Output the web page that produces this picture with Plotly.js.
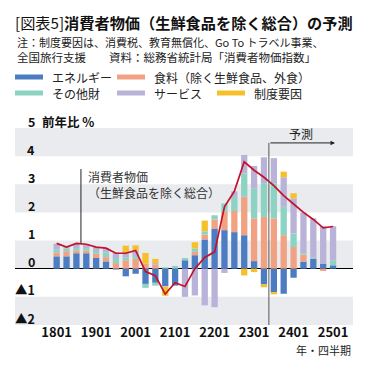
<!DOCTYPE html>
<html>
<head>
<meta charset="utf-8">
<script src="https://cdn.plot.ly/plotly-3.0.1.min.js"></script>
<style>html,body{margin:0;padding:0;background:#fff;}#chart{width:368px;height:375px;}</style>
</head>
<body>
<div id="chart"></div>
<script>
// ---- data ----
const quarters = ['1801','1802','1803','1804','1901','1902','1903','1904','2001','2002','2003','2004',
  '2101','2102','2103','2104','2201','2202','2203','2204','2301','2302','2303','2304','2401','2402','2403','2404','2501'];
const energy  = [0.44,0.44,0.55,0.55,0.38,0.26,-0.03,-0.27,-0.18,-0.54,-0.50,-0.62,-0.60,0.30,0.48,1.04,1.43,1.37,1.30,1.19,0.27,-0.56,-0.83,-0.89,-0.32,0.25,0.36,0.18,0.12];
const food    = [0.13,0.18,0.10,0.10,0.15,0.15,0.20,0.30,0.35,0.18,0.15,0.00,0.00,0.00,0.12,0.17,0.32,0.65,0.75,1.37,1.52,1.84,1.79,1.19,0.77,0.25,0.00,-0.08,0.00];
const otherGoods = [0.12,0.10,0.08,0.08,0.10,0.17,0.18,0.10,0.10,-0.14,-0.10,0.05,0.10,0.08,0.12,0.12,0.15,0.30,0.50,0.83,1.07,1.20,1.25,1.01,0.48,0.05,0.03,0.00,0.18];
const services = [0.20,0.05,0.15,0.14,0.14,0.14,0.20,0.15,0.20,0.00,0.05,-0.02,0.00,-1.00,-0.95,-1.30,-1.37,-0.15,0.20,0.65,0.79,0.92,0.89,1.05,1.25,1.45,1.40,1.33,1.21];
const policy  = [0,0,0,0,0,0,0,0.27,0.18,0.38,0.15,-0.32,0,0,0.22,0.38,0,0,0,-0.24,-0.12,-0.10,-0.08,0.20,0.18,0,0,0,0];
const coreCPI = [0.90,0.77,0.90,0.87,0.77,0.73,0.55,0.55,0.65,-0.10,-0.25,-0.90,-0.50,-0.63,0.00,0.40,0.60,2.20,2.75,3.80,3.50,3.25,2.95,2.60,2.30,2.00,1.75,1.45,1.50];
const seriesNames = ['エネルギー','食料（除く生鮮食品、外食）','その他財','サービス','制度要因'];
const yTickVals = [5,4,3,2,1,0,-1,-2];
const yTickText = ['5','4','3','2','1','0','▲1','▲2'];

// ---- style ----
const FONT = '"Noto Sans CJK JP", "Noto Sans", sans-serif';
const colors = ['#4c7dc2','#f0a283','#8dd3c3','#bab3d9','#f6c02a'];
const W = 368, H = 375, L = 15, R = 15, T = 128, B = 50;
const PW = W - L - R, PH = H - T - B;
const px = X => (X - L) / PW;
const py = Y => (H - B - Y) / PH;

const seriesVals = [energy, food, otherGoods, services, policy];
const traces = seriesVals.map((v, k) => ({
  type: 'bar', x: quarters, y: v, name: seriesNames[k],
  marker: {color: colors[k], line: {width: 0}}, hoverinfo: 'skip', showlegend: false
}));
traces.push({
  type: 'scatter', mode: 'lines', x: quarters, y: coreCPI, name: '消費者物価（生鮮食品を除く総合）',
  line: {color: '#c3122c', width: 1.7}, hoverinfo: 'skip', showlegend: false
});

const shapes = [];
[[4,5],[2,3],[0,1],[-2,-1]].forEach(b => shapes.push({
  type: 'rect', xref: 'paper', yref: 'y', x0: 0, x1: 1, y0: b[0], y1: b[1],
  fillcolor: '#e9ebee', line: {width: 0}, layer: 'below'
}));
// pointer line for series label
shapes.push({type: 'line', xref: 'x', yref: 'y', x0: 2.46, x1: 2.46, y0: 0.9, y1: 3.54,
  line: {color: '#222', width: 1}});
// forecast divider
shapes.push({type: 'line', xref: 'x', yref: 'y', x0: 21.5, x1: 21.5, y0: -2, y1: 4.47,
  line: {color: '#555', width: 1}});

// legend swatches
const legendPos = [[15,77],[117,77],[15,93],[117,93],[217,93]];
legendPos.forEach((p, k) => shapes.push({
  type: 'rect', xref: 'paper', yref: 'paper', x0: px(p[0]), x1: px(p[0] + 28),
  y0: py(p[1] + 2.5), y1: py(p[1] - 2.5), fillcolor: colors[k], line: {width: 0}
}));

const annotations = [];
legendPos.forEach((p, k) => annotations.push({
  xref: 'paper', yref: 'paper', x: px(p[0] + 35), y: py(p[1]), xanchor: 'left', yanchor: 'middle',
  text: seriesNames[k], showarrow: false, font: {family: FONT, size: 12, color: '#222'}
}));
// subtitle lines
annotations.push({xref: 'paper', yref: 'paper', x: px(15), y: py(42), xanchor: 'left', yanchor: 'middle',
  text: '注：制度要因は、消費税、教育無償化、Go To トラベル事業、', showarrow: false,
  font: {family: FONT, size: 11, color: '#222'}});
annotations.push({xref: 'paper', yref: 'paper', x: px(15), y: py(57), xanchor: 'left', yanchor: 'middle',
  text: '全国旅行支援　　資料：総務省統計局「消費者物価指数」', showarrow: false,
  font: {family: FONT, size: 11.5, color: '#222'}});
// y tick labels
yTickVals.forEach((v, k) => annotations.push({
  xref: 'paper', yref: 'y', x: px(37), y: v, yshift: 7, xanchor: 'right', yanchor: 'middle',
  text: yTickText[k], showarrow: false, font: {family: FONT, size: 12.5, color: '#111', weight: 'bold'}
}));
annotations.push({xref: 'paper', yref: 'y', x: px(40), y: 5, yshift: 7, xanchor: 'left', yanchor: 'middle',
  text: '前年比 %', showarrow: false, font: {family: FONT, size: 12.5, color: '#111', weight: 'bold'}});
// x axis unit
annotations.push({xref: 'paper', yref: 'paper', x: px(353), y: py(350), xanchor: 'right', yanchor: 'middle',
  text: '年・四半期', showarrow: false, font: {family: FONT, size: 11, color: '#222'}});
// series label
annotations.push({xref: 'paper', yref: 'paper', x: px(86), y: py(184), xanchor: 'left', yanchor: 'middle',
  text: '消費者物価<br>（生鮮食品を除く総合）', align: 'left', showarrow: false,
  font: {family: FONT, size: 12, color: '#333'}});
// forecast arrow + label
annotations.push({xref: 'x', yref: 'y', axref: 'x', ayref: 'y', x: 28.2, y: 4.47, ax: 21.5, ay: 4.47,
  text: '', showarrow: true, arrowhead: 2, arrowsize: 0.9, arrowwidth: 1, arrowcolor: '#222'});
annotations.push({xref: 'x', yref: 'y', x: 24.8, y: 4.82, xanchor: 'center', yanchor: 'middle',
  text: '予測', showarrow: false, font: {family: FONT, size: 12, color: '#222'}});

const layout = {
  width: W, height: H,
  margin: {l: L, r: R, t: T, b: B, pad: 0},
  paper_bgcolor: '#fff', plot_bgcolor: 'rgba(0,0,0,0)',
  font: {family: FONT, color: '#222'},
  title: {
    text: '[図表5]<b>消費者物価（生鮮食品を除く総合）の予測</b>',
    xref: 'container', yref: 'container', x: 15 / W, y: 1 - 24 / H,
    xanchor: 'left', yanchor: 'middle',
    font: {family: FONT, size: 15.2, color: '#111'}
  },
  barmode: 'relative', bargap: 0.36,
  showlegend: false,
  xaxis: {
    type: 'category', range: [-4.22, 30.02], tickmode: 'linear', tick0: 0, dtick: 4,
    showgrid: false, zeroline: false, showline: false, ticks: '', ticklabelstandoff: -2,
    tickfont: {family: FONT, size: 13, color: '#111', weight: 'bold'}, fixedrange: true
  },
  yaxis: {
    range: [-2, 5], showgrid: false, showticklabels: false, ticks: '',
    zeroline: true, zerolinecolor: '#000', zerolinewidth: 1, fixedrange: true
  },
  shapes: shapes,
  annotations: annotations
};

Plotly.newPlot('chart', traces, layout, {displayModeBar: false, staticPlot: true});
</script>
</body>
</html>
